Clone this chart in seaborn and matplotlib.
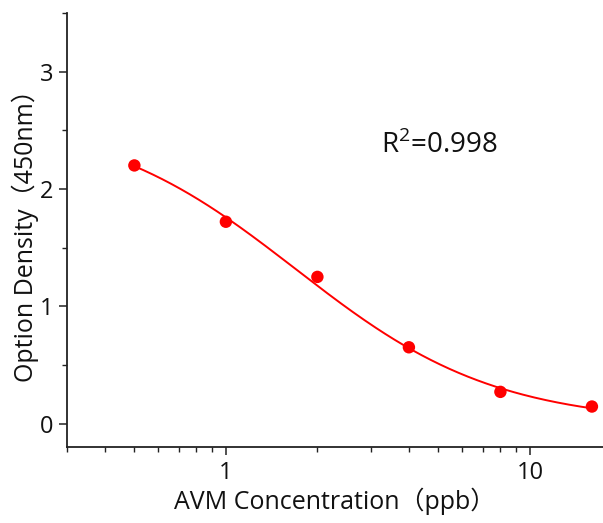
import numpy as np
import pandas as pd
import matplotlib
matplotlib.use("Agg")
import matplotlib.pyplot as plt
import matplotlib.ticker as mticker
import seaborn as sns

# Data
concentration = [0.5, 1, 2, 4, 8, 16]
optical_density = [2.20, 1.72, 1.25, 0.65, 0.27, 0.145]

# 4-parameter logistic fit parameters (top, bottom, EC50, slope)
fit_top = 2.63
fit_bottom = 0.0
fit_c = 1.7
fit_b = 1.32

r2_text = "R$^2$=0.998"
xlabel = "AVM Concentration（ppb）"
ylabel = "Option Density（450nm）"

sns.set_theme(style="ticks")
plt.rcParams['font.family'] = ['Open Sans', 'Noto Sans CJK SC', 'DejaVu Sans']
plt.rcParams['mathtext.fontset'] = 'custom'
plt.rcParams['mathtext.rm'] = 'Open Sans'

fig = plt.figure(figsize=(6.03, 5.23), dpi=100)
ax = fig.add_axes([0.111, 0.1453, 0.889, 0.830])

df = pd.DataFrame({"x": concentration, "y": optical_density})
xs = np.logspace(np.log10(min(concentration)), np.log10(max(concentration)), 200)
fit = pd.DataFrame({"x": xs,
                    "y": fit_bottom + (fit_top - fit_bottom) / (1 + (xs / fit_c) ** fit_b)})

sns.lineplot(data=fit, x="x", y="y", ax=ax, color="#FF0000", linewidth=1.4)
sns.scatterplot(data=df, x="x", y="y", ax=ax, color="#FF0000", s=80,
                edgecolor="none", clip_on=False, zorder=3)

ax.set_xscale("log")
ax.set_xlim(0.3, 17.4)
ax.set_ylim(-0.2, 3.5)
ax.xaxis.set_major_locator(mticker.FixedLocator([1, 10]))
ax.xaxis.set_major_formatter(mticker.FixedFormatter(["1", "10"]))
ax.xaxis.set_minor_locator(mticker.LogLocator(base=10, subs=np.arange(2, 10)))
ax.xaxis.set_minor_formatter(mticker.NullFormatter())
ax.yaxis.set_major_locator(mticker.MultipleLocator(1))
ax.yaxis.set_minor_locator(mticker.MultipleLocator(0.5))

for s in ["top", "right"]:
    ax.spines[s].set_visible(False)
for s in ["left", "bottom"]:
    ax.spines[s].set_linewidth(1.3)
    ax.spines[s].set_color("#222222")

ax.tick_params(axis="both", which="major", length=6, width=1.1, labelsize=17,
               direction="out", color="#222222", labelcolor="#111111", pad=4)
ax.tick_params(axis="both", which="minor", length=3.5, width=1.0, direction="out",
               color="#222222")

ax.set_xlabel(xlabel, fontsize=18, color="#111111", labelpad=2)
ax.set_ylabel(ylabel, fontsize=18, color="#111111", labelpad=0)

ax.text(3.25, 2.37, r2_text, fontsize=20, color="#111111", va="center", ha="left")

fig.savefig("out.png", dpi=100)
